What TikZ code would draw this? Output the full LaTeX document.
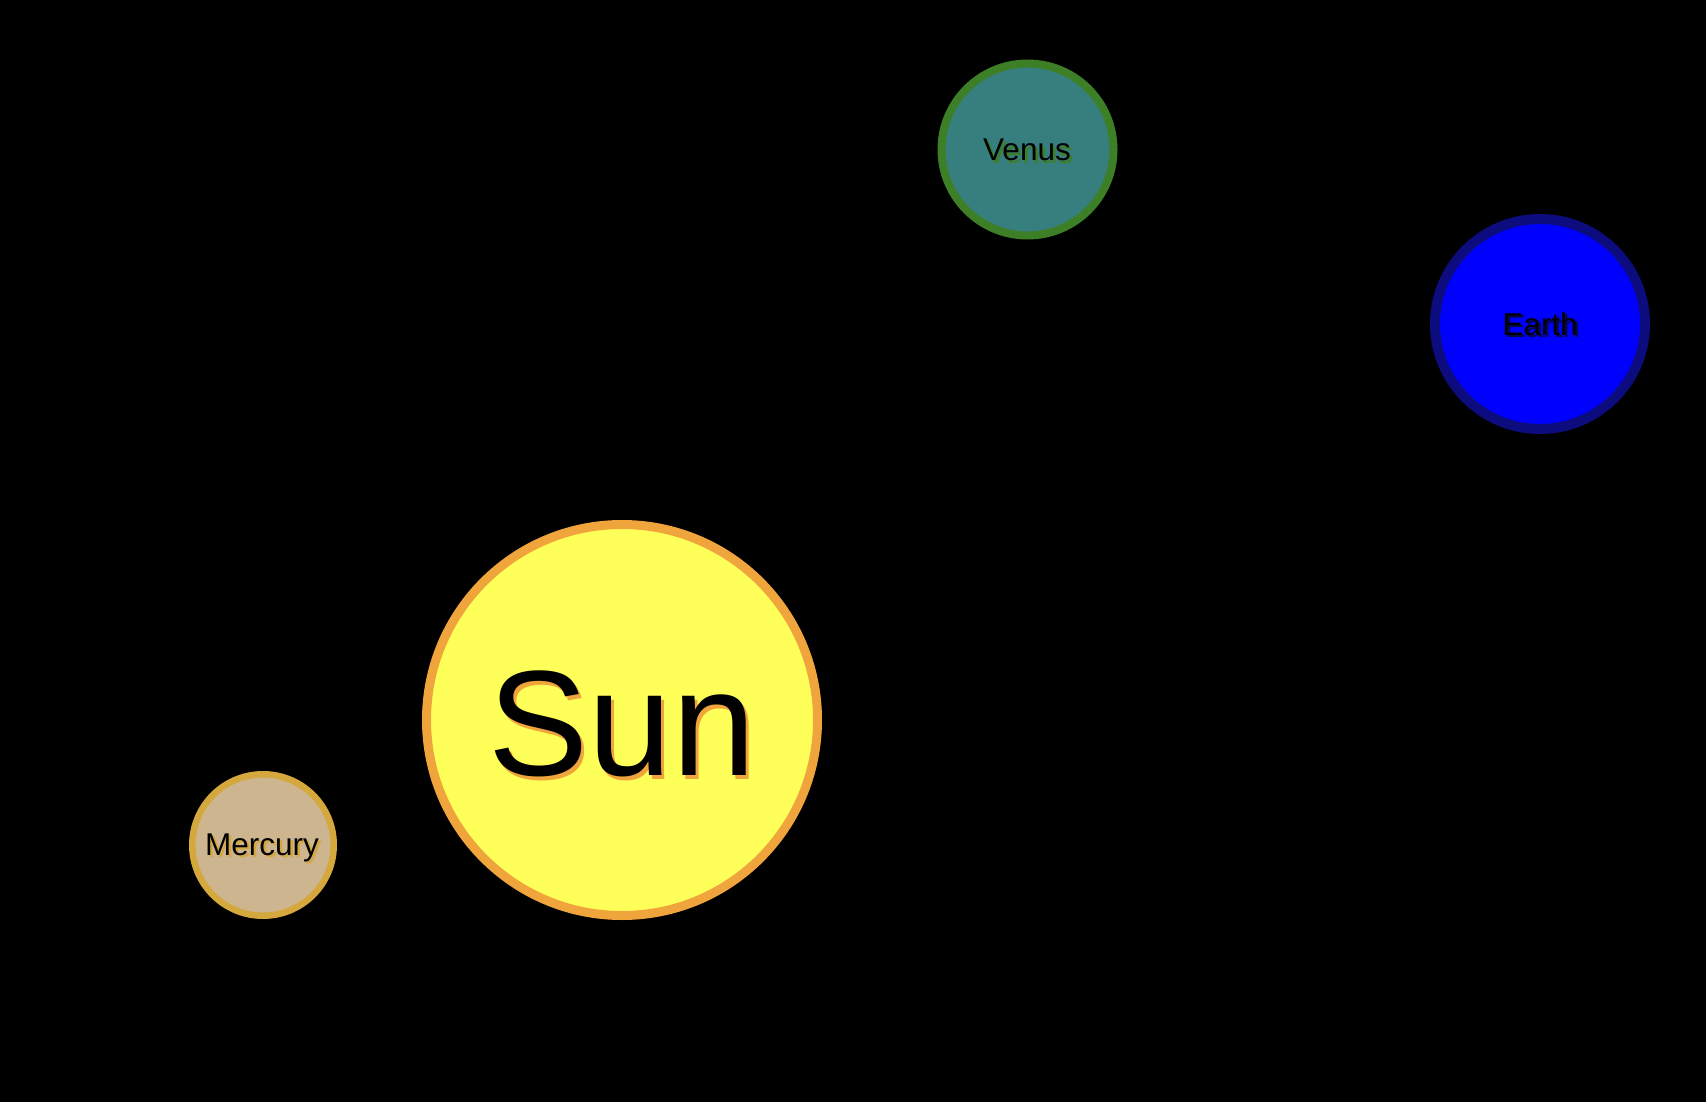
\documentclass[tikz,border=0pt]{standalone}
\usepackage{fontspec}
\setmainfont{Liberation Sans}
\definecolor{sunfill}{HTML}{FFFF5A}
\definecolor{sunedge}{HTML}{F0A53C}
\definecolor{merfill}{HTML}{CDB58F}
\definecolor{meredge}{HTML}{D4A83C}
\definecolor{venfill}{HTML}{377E7E}
\definecolor{venedge}{HTML}{3D7F27}
\definecolor{earfill}{HTML}{0000FF}
\definecolor{earedge}{HTML}{0C0C7E}
\tikzset{
  planet/.style={circle, inner sep=0pt, outer sep=0pt},
  label/.style={anchor=base, inner sep=0pt, font=\fontsize{31.5}{38}\selectfont},
  biglabel/.style={anchor=base, inner sep=0pt, font=\fontsize{150}{180}\selectfont}
}
\begin{document}
\begin{tikzpicture}[x=1pt,y=-1pt]
\fill[black] (0,0) rectangle (1706,1102);
\useasboundingbox (0,0) rectangle (1706,1102);
% planets
\node[planet, draw=sunedge, fill=sunfill, line width=9pt, minimum size=391pt] (sun) at (622,720) {};
\node[planet, draw=meredge, fill=merfill, line width=6.5pt, minimum size=141.5pt] (mercury) at (263,845) {};
\node[planet, draw=venedge, fill=venfill, line width=8pt, minimum size=172pt] (venus) at (1027.5,149.5) {};
\node[planet, draw=earedge, fill=earfill, line width=10pt, minimum size=210pt] (earth) at (1540,324) {};
% labels with shadows
\node[biglabel, text=sunedge] (sunshadow) at (625,779) {Sun};
\node[biglabel] (sunlabel) at (622,775) {Sun};
\node[label, text=meredge] (mershadow) at (264.5,857.5) {Mercury};
\node[label] (merlabel) at (262,855) {Mercury};
\node[label, text=venedge] (venshadow) at (1029.5,163.5) {Venus};
\node[label] (venlabel) at (1027,161) {Venus};
\node[label, text=earedge!60!black] (earshadow) at (1542.5,337.5) {Earth};
\node[label] (earlabel) at (1540,335) {Earth};
\end{tikzpicture}
\end{document}
